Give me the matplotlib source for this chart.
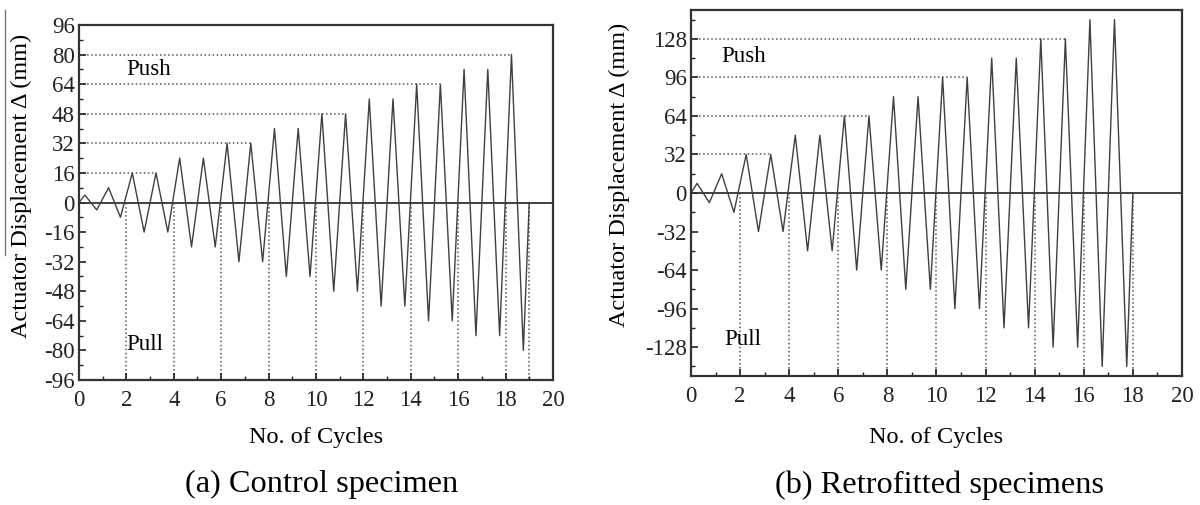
import matplotlib
matplotlib.use("Agg")
import matplotlib.pyplot as plt
from matplotlib.ticker import MultipleLocator
from matplotlib.lines import Line2D

plt.rcParams['font.family'] = ['Liberation Serif', 'DejaVu Serif']
plt.rcParams['axes.unicode_minus'] = False

# ---- data ----
# peak amplitude (mm) of each loading cycle
control_amp = [4, 8, 16, 16, 24, 24, 32, 32, 40, 40, 48, 48, 56, 56, 64, 64, 72, 72, 80]
retro_amp = [8, 16, 32, 32, 48, 48, 64, 64, 80, 80, 96, 96, 112, 112, 128, 128, 144, 144]

# "Push" reference levels and the cycle where each ends
control_push_levels = [16, 32, 48, 64, 80]
control_push_ends = [3.25, 7.25, 11.25, 15.25, 18.25]
retro_push_levels = [32, 64, 96, 128]
retro_push_ends = [3.25, 7.25, 11.25, 15.25]

# "Pull" vertical reference cycles
control_pull = [2, 4, 6, 8, 10, 12, 14, 16, 18, 19]
retro_pull = [2, 4, 6, 8, 10, 12, 14, 16, 18]

x_ticks = [0, 2, 4, 6, 8, 10, 12, 14, 16, 18, 20]
control_yticks = [-96, -80, -64, -48, -32, -16, 0, 16, 32, 48, 64, 80, 96]
retro_yticks = [-128, -96, -64, -32, 0, 32, 64, 96, 128]


def history(amps):
    xs, ys = [0.0], [0.0]
    for i, a in enumerate(amps):
        xs += [i + 0.25, i + 0.75]
        ys += [a, -a]
    xs.append(len(amps))
    ys.append(0.0)
    return xs, ys


fig = plt.figure(figsize=(12, 5.05), dpi=100)
ax1 = fig.add_axes([0.0658, 0.2475, 0.395, 0.703])
ax2 = fig.add_axes([0.5758, 0.2554, 0.4092, 0.7248])

curve_c = '#404040'
ref_c = '#555555'


def draw(ax, amps, lim, yticks, minor, push_l, push_e, pull, push_xy, pull_xy,
         label_x, label_y):
    x, y = history(amps)
    ax.axhline(0, color='#333333', lw=1.3, zorder=2)
    for lv, e in zip(push_l, push_e):
        ax.plot([0, e], [lv, lv], ls=':', color=ref_c, lw=1.1, zorder=1)
    for p in pull:
        ax.plot([p, p], [0, -lim], ls=':', color=ref_c, lw=1.1, zorder=1)
    ax.plot(x, y, color=curve_c, lw=1.0, zorder=3)
    ax.set_xlim(0, 20)
    ax.set_ylim(-lim, lim)
    ax.set_xticks(x_ticks)
    ax.set_yticks(yticks)
    ax.xaxis.set_minor_locator(MultipleLocator(1))
    ax.yaxis.set_minor_locator(MultipleLocator(minor))
    ax.tick_params(which='both', direction='in', labelsize=16.5, colors='#222222')
    ax.tick_params(which='major', length=5, width=1.2)
    ax.tick_params(which='minor', length=3, width=1.0)
    ax.tick_params(axis='x', pad=7)
    ax.tick_params(axis='y', pad=3)
    for s in ax.spines.values():
        s.set_linewidth(1.6)
        s.set_color('#333333')
    ax.text(push_xy[0], push_xy[1], 'Push', fontsize=16.5, va='center', ha='left')
    ax.text(pull_xy[0], pull_xy[1], 'Pull', fontsize=16.5, va='center', ha='left')
    ax.set_xlabel('No. of Cycles', fontsize=17.5)
    ax.set_ylabel('Actuator Displacement Δ (mm)', fontsize=17.5)
    ax.yaxis.set_label_coords(label_x, label_y)


draw(ax1, control_amp, 96, control_yticks, 8, control_push_levels, control_push_ends,
     control_pull, (2.0, 72), (2.0, -77), -0.099, 0.546)
ax1.xaxis.set_label_coords(0.5, -0.133)
draw(ax2, retro_amp, 152, retro_yticks, 16, retro_push_levels, retro_push_ends,
     retro_pull, (1.25, 113), (1.35, -122), -0.124, 0.549)
ax2.xaxis.set_label_coords(0.5, -0.138)

fig.text(0.268, 0.04, '(a) Control specimen', fontsize=23.3, ha='center', va='center')
fig.text(0.783, 0.04, '(b) Retrofitted specimens', fontsize=23.3, ha='center', va='center')

# scan artifact line at the far left
fig.add_artist(Line2D([5 / 1200, 5 / 1200], [1 - 10 / 505, 1 - 255 / 505],
                      transform=fig.transFigure, color='#777777', lw=1.0))

fig.savefig('out.png', dpi=100)
